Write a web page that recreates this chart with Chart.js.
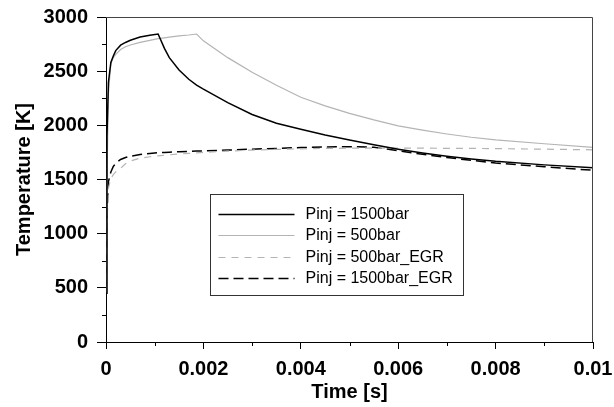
<!DOCTYPE html>
<html>
  <head>
    <meta charset="utf-8">
    <title></title>
    <style>
      body { margin: 0; background: #fff; }
      #wrap { width: 614px; height: 407px; }
    </style>
  </head>
  <body>
    <div id="wrap"><canvas id="myChart"></canvas></div>
  </body>
  <script src="https://cdn.jsdelivr.net/npm/chart.js@4/dist/chart.umd.min.js"></script>
  <script type="text/javascript">

  // time axis [s], shared by all four curves
  const time = [0, 0.00002, 0.00005, 0.0001, 0.00015, 0.0002, 0.0003, 0.0004, 0.0005, 0.0007, 0.0009, 0.00107,
    0.0012, 0.0013, 0.0015, 0.0017, 0.00186, 0.002, 0.0025, 0.003, 0.0035, 0.004, 0.0045, 0.005,
    0.0055, 0.006, 0.0065, 0.007, 0.0075, 0.008, 0.009, 0.01];

  // temperature [K]
  const pinj1500 = [450, 1900, 2400, 2580, 2640, 2690, 2740, 2765, 2785, 2815, 2832, 2843,
    2710, 2625, 2510, 2425, 2372, 2335, 2210, 2100, 2020, 1963, 1910, 1865,
    1820, 1780, 1745, 1715, 1690, 1668, 1635, 1608];
  const pinj500 = [450, 1500, 2300, 2570, 2625, 2655, 2700, 2725, 2742, 2765, 2785, 2800,
    2808, 2815, 2825, 2834, 2843, 2780, 2625, 2490, 2370, 2259, 2180, 2111,
    2050, 1995, 1955, 1920, 1890, 1866, 1830, 1797];
  const pinj500egr = [450, 1100, 1420, 1510, 1545, 1570, 1603, 1645, 1670, 1697, 1710, 1718,
    1724, 1728, 1735, 1741, 1745, 1750, 1762, 1772, 1778, 1783, 1787, 1789,
    1790, 1790, 1789, 1788, 1787, 1785, 1780, 1774];
  const pinj1500egr = [450, 1200, 1480, 1570, 1620, 1650, 1685, 1703, 1715, 1730, 1740, 1747,
    1750, 1752, 1756, 1759, 1762, 1764, 1772, 1780, 1787, 1795, 1800, 1803,
    1798, 1765, 1733, 1703, 1677, 1652, 1618, 1585];

  const FONT = '"Liberation Sans", Arial, sans-serif';

  function toPoints(ys) {
    return time.map((t, i) => ({x: t, y: ys[i]}));
  }

  // top/right frame, minor ticks and the boxed legend inside the plot
  const extras = {
    id: 'extras',
    afterDraw(chart) {
      const ctx = chart.ctx;
      const a = chart.chartArea;
      const xs = chart.scales.x, ys = chart.scales.y;
      ctx.save();
      ctx.strokeStyle = '#444';
      ctx.lineWidth = 1;
      ctx.beginPath();
      ctx.moveTo(a.left, a.top + 0.5);
      ctx.lineTo(a.right - 0.5, a.top + 0.5);
      ctx.lineTo(a.right - 0.5, a.bottom);
      ctx.stroke();

      ctx.strokeStyle = '#000';
      ctx.beginPath();
      for (let v = 250; v < 3000; v += 500) {
        const y = Math.round(ys.getPixelForValue(v)) + 0.5;
        ctx.moveTo(a.left - 4, y);
        ctx.lineTo(a.left, y);
      }
      for (let v = 0.001; v < 0.01; v += 0.002) {
        const x = Math.round(xs.getPixelForValue(v)) + 0.5;
        ctx.moveTo(x, a.bottom);
        ctx.lineTo(x, a.bottom + 4);
      }
      ctx.stroke();

      // legend
      const bx = a.left + 104.5, by = a.top + 177.5, bw = 253, bh = 101;
      ctx.fillStyle = '#fff';
      ctx.fillRect(bx, by, bw, bh);
      ctx.strokeStyle = '#333';
      ctx.strokeRect(bx, by, bw, bh);
      ctx.font = '16px ' + FONT;
      ctx.textBaseline = 'middle';
      chart.data.datasets.forEach((ds, i) => {
        const y = Math.round(by + 19 + i * 21.5) + 0.5;
        ctx.strokeStyle = ds.borderColor;
        ctx.lineWidth = ds.borderWidth;
        ctx.setLineDash(ds.borderDash || []);
        ctx.beginPath();
        ctx.moveTo(bx + 8, y);
        ctx.lineTo(bx + 84, y);
        ctx.stroke();
        ctx.setLineDash([]);
        ctx.fillStyle = '#000';
        ctx.fillText(ds.label, bx + 95, y);
      });
      ctx.restore();
    }
  };

  const ctx = document.getElementById('myChart').getContext('2d');
  const chart = new Chart(ctx, {
    type: 'line',
    data: {
      datasets: [{
        label: 'Pinj = 1500bar',
        data: toPoints(pinj1500),
        borderColor: '#000',
        borderWidth: 1.5
      }, {
        label: 'Pinj = 500bar',
        data: toPoints(pinj500),
        borderColor: '#b4b4b4',
        borderWidth: 1.2
      }, {
        label: 'Pinj = 500bar_EGR',
        data: toPoints(pinj500egr),
        borderColor: '#b4b4b4',
        borderWidth: 1.2,
        borderDash: [7, 6]
      }, {
        label: 'Pinj = 1500bar_EGR',
        data: toPoints(pinj1500egr),
        borderColor: '#000',
        borderWidth: 1.5,
        borderDash: [10, 5]
      }]
    },
    options: {
      responsive: true,
      maintainAspectRatio: false,
      animation: false,
      layout: {padding: {left: 0, right: 21, top: 17, bottom: 0}},
      elements: {
        point: {radius: 0},
        line: {tension: 0, fill: false}
      },
      plugins: {
        legend: {display: false},
        tooltip: {enabled: false}
      },
      scales: {
        x: {
          type: 'linear',
          min: 0,
          max: 0.01,
          afterFit: (s) => { s.height = 65; s.paddingLeft = 0; s.paddingRight = 0; },
          grid: {drawOnChartArea: false, tickLength: 7, color: '#000'},
          border: {display: true, color: '#000', width: 1},
          ticks: {
            stepSize: 0.002,
            maxRotation: 0,
            autoSkip: false,
            padding: 8,
            color: '#000',
            font: {family: FONT, size: 20, weight: 'bold'},
            callback: (v) => String(+v.toFixed(4))
          },
          title: {
            display: true,
            text: 'Time [s]',
            color: '#000',
            font: {family: FONT, size: 20, weight: 'bold'},
            padding: {top: 0, bottom: 3}
          }
        },
        y: {
          min: 0,
          max: 3000,
          afterFit: (s) => { s.width = 106; s.paddingTop = 0; s.paddingBottom = 0; },
          grid: {drawOnChartArea: false, tickLength: 9, color: '#000'},
          border: {display: true, color: '#000', width: 1},
          ticks: {
            stepSize: 500,
            padding: 9,
            color: '#000',
            font: {family: FONT, size: 20, weight: 'bold'},
            callback: (v) => String(v)
          },
          title: {
            display: true,
            text: 'Temperature [K]',
            color: '#000',
            font: {family: FONT, size: 20, weight: 'bold'},
            padding: {top: 12, bottom: 0}
          }
        }
      }
    },
    plugins: [extras]
  });
  </script>
</html>
